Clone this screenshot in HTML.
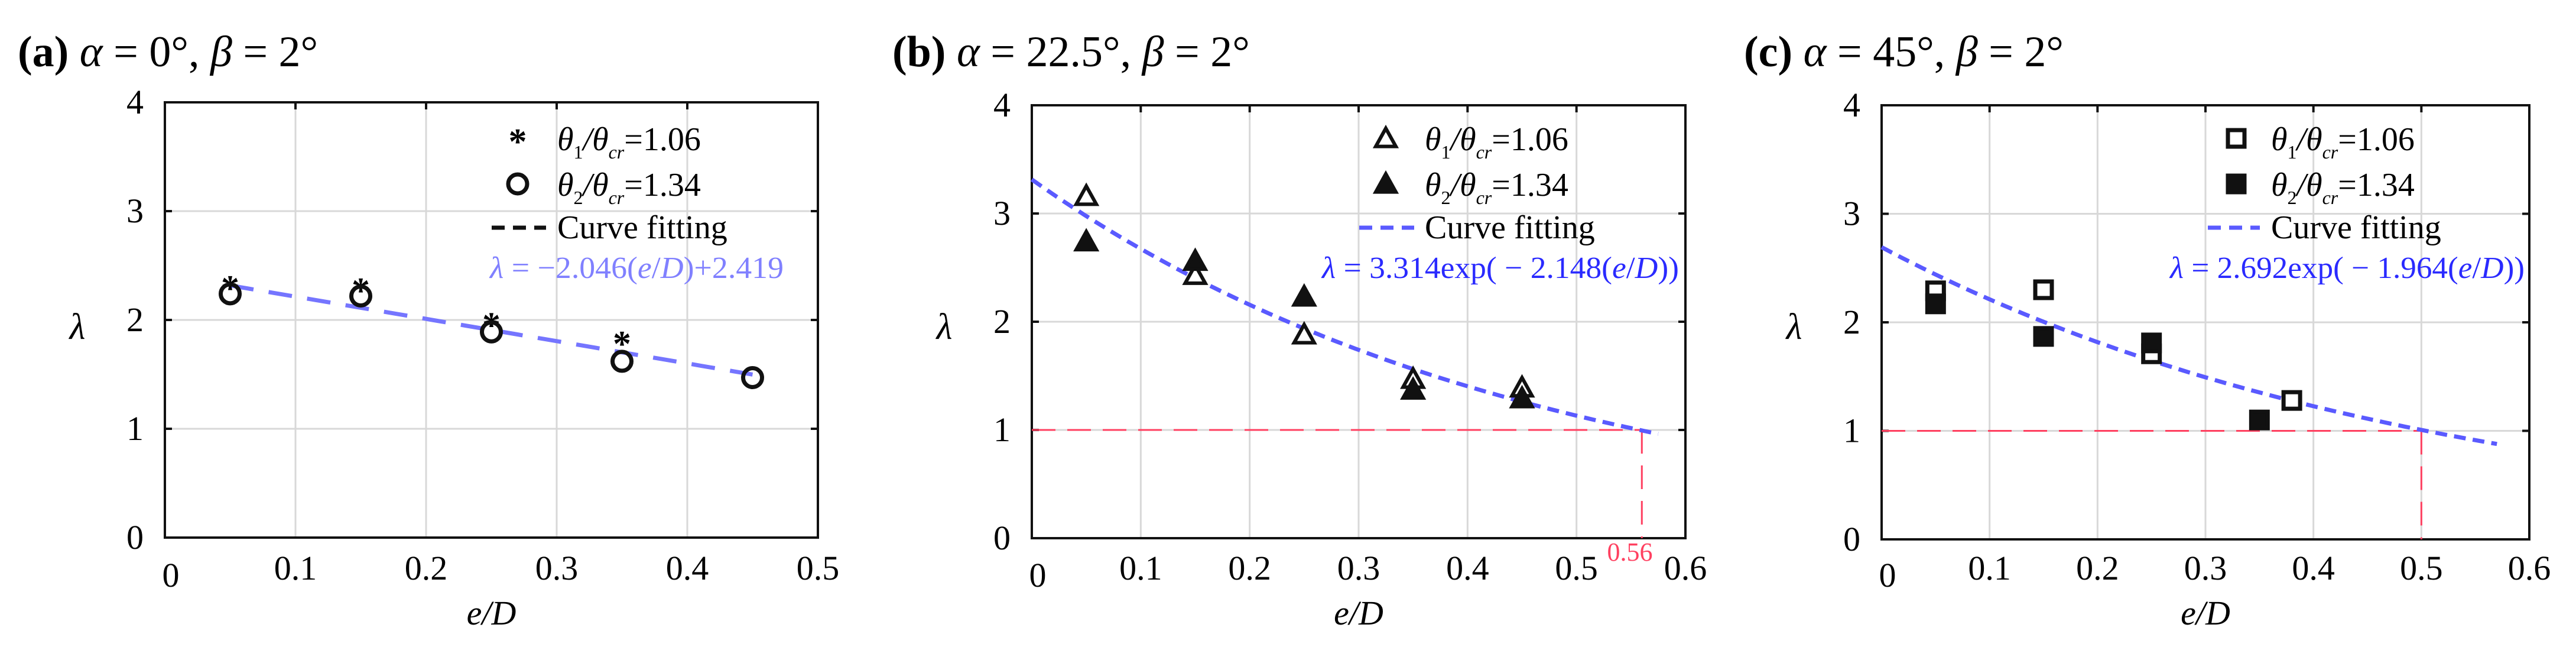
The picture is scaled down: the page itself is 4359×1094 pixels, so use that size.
<!DOCTYPE html>
<html><head><meta charset="utf-8">
<style>
html,body{margin:0;padding:0;background:#fff;}
svg, svg text{font-family:"Liberation Serif","DejaVu Serif",serif;}
svg{display:block;}
</style></head>
<body>
<svg id="fig" width="4359" height="1094" viewBox="0 0 4359 1094" xmlns="http://www.w3.org/2000/svg" font-family="Liberation Serif, serif">
<text x="30" y="112" font-size="74" font-family="Liberation Serif, serif"><tspan font-weight="bold">(a)</tspan> <tspan font-style="italic">α</tspan> = 0°, <tspan font-style="italic">β</tspan> = 2°</text>
<text x="1510" y="112" font-size="74" font-family="Liberation Serif, serif"><tspan font-weight="bold">(b)</tspan> <tspan font-style="italic">α</tspan> = 22.5°, <tspan font-style="italic">β</tspan> = 2°</text>
<text x="2951" y="112" font-size="74" font-family="Liberation Serif, serif"><tspan font-weight="bold">(c)</tspan> <tspan font-style="italic">α</tspan> = 45°, <tspan font-style="italic">β</tspan> = 2°</text>
</svg>
<script>
// Panel (a) data
const aX1 = [0.05, 0.15, 0.25, 0.35];
const aS1 = [2.32, 2.30, 1.98, 1.81];
const aX2 = [0.05, 0.15, 0.25, 0.35, 0.45];
const aS2 = [2.24, 2.22, 1.89, 1.62, 1.47];
const aFitA = -2.046, aFitB = 2.419;
// Panel (b) data
const bX = [0.05, 0.15, 0.25, 0.35, 0.45];
const bS1 = [3.16, 2.43, 1.88, 1.47, 1.39];
const bS2 = [2.74, 2.56, 2.23, 1.37, 1.29];
const bFitA = 3.314, bFitK = -2.148;
const bCross = 0.56;
// Panel (c) data
const cX1 = [0.05, 0.15, 0.25, 0.38];
const cS1 = [2.29, 2.30, 1.71, 1.28];
const cX2 = [0.05, 0.15, 0.25, 0.35];
const cS2 = [2.17, 1.87, 1.81, 1.10];
const cFitA = 2.692, cFitK = -1.964;
const cCross = 0.5;
// ticks
const yTicks = [0, 1, 2, 3, 4];
const xTicksA = [0, 0.1, 0.2, 0.3, 0.4, 0.5];
const xTicksBC = [0, 0.1, 0.2, 0.3, 0.4, 0.5, 0.6];

const svg = document.getElementById('fig');
const NS = 'http://www.w3.org/2000/svg';
function mk(tag, attrs, parent) {
  const e = document.createElementNS(NS, tag);
  for (const k in attrs) e.setAttribute(k, attrs[k]);
  if (tag === 'text' && !attrs['font-family']) e.setAttribute('font-family', 'Liberation Serif, serif');
  (parent || svg).appendChild(e);
  return e;
}

function panel(p) {
  const g = mk('g', {});
  
  
  const sx = v => p.L + (v - 0) / p.xmax * (p.R - p.L);
  const sy = v => p.B - v / 4 * (p.B - p.T);
  p.xticks.forEach(t => {
    if (t > 0 && t < p.xmax) {
      const l = mk('line', {x1: sx(t), x2: sx(t), y1: p.T, y2: p.B, stroke: '#d8d8d8', 'stroke-width': 3}, g);
      
      
    }
  });
  yTicks.forEach(t => {
    if (t > 0 && t < 4) {
      const l = mk('line', {x1: p.L, x2: p.R, y1: sy(t), y2: sy(t), stroke: '#d8d8d8', 'stroke-width': 3}, g);
      
      
    }
  });
  const fr = mk('rect', {x: p.L, y: p.T, width: p.R - p.L, height: p.B - p.T, fill: 'none', stroke: '#111', 'stroke-width': 4}, g);
  
  
  yTicks.forEach(t => {
    mk('line', {x1: p.R - 12, x2: p.R, y1: sy(t), y2: sy(t), stroke: '#111', 'stroke-width': 4}, g);
    mk('line', {x1: p.L, x2: p.L + 12, y1: sy(t), y2: sy(t), stroke: '#111', 'stroke-width': 4}, g);
    const tx = mk('text', {x: p.L - 36, y: sy(t) + 19, 'font-size': 58, 'text-anchor': 'end'}, g);
    tx.textContent = String(t);
    
    
  });
  p.xticks.forEach(t => {
    mk('line', {x1: sx(t), x2: sx(t), y1: p.T, y2: p.T + 12, stroke: '#111', 'stroke-width': 4}, g);
    const tx = mk('text', {x: sx(t) + (t === 0 ? 10 : 0), y: t === 0 ? 992 : 980, 'font-size': 58, 'text-anchor': 'middle'}, g);
    tx.textContent = String(t);
    
    
  });
  const xl = mk('text', {x: (p.L + p.R) / 2, y: 1056, 'font-size': 58, 'text-anchor': 'middle', 'font-style': 'italic'}, g);
  xl.textContent = 'e/D';
  
  
  const yl = mk('text', {x: p.L - 148, y: 573, 'font-size': 62, 'text-anchor': 'middle', 'font-style': 'italic'}, g);
  yl.textContent = 'λ';
  
  

  if (p.cross !== undefined) {
    const r1 = mk('line', {x1: p.L, x2: sx(p.cross), y1: sy(1), y2: sy(1), stroke: '#ff4060', 'stroke-width': 3, 'stroke-dasharray': '40 20'}, g);
    
    
    const r2 = mk('line', {x1: sx(p.cross), x2: sx(p.cross), y1: sy(1), y2: p.B, stroke: '#ff4060', 'stroke-width': 3, 'stroke-dasharray': '40 20'}, g);
    
    
  }
  let d = '';
  const n = 60;
  for (let i = 0; i <= n; i++) {
    const x = p.fx0 + (p.fx1 - p.fx0) * i / n;
    d += (i ? 'L' : 'M') + sx(x).toFixed(1) + ' ' + sy(p.fit(x)).toFixed(1);
  }
  const fc = mk('path', {d: d, fill: 'none', stroke: p.fitColor, 'stroke-width': 7, 'stroke-dasharray': p.dash}, g);
  
  

  function marker(type, cx, cy, parent) {
    let e;
    if (type === 'star') {
      e = mk('text', {x: cx, y: cy + 26, 'font-size': 62, 'text-anchor': 'middle', 'font-family': 'Liberation Sans, sans-serif', 'font-weight': 'bold'}, parent);
      e.textContent = '*';
    } else if (type === 'circle') {
      e = mk('circle', {cx: cx, cy: cy, r: 16, fill: 'none', stroke: '#111', 'stroke-width': 7}, parent);
    } else if (type === 'tri-open' || type === 'tri-fill') {
      const s = 17;
      e = mk('polygon', {points: `${cx},${cy - s} ${cx - s},${cy + s * 0.8} ${cx + s},${cy + s * 0.8}`, fill: type === 'tri-fill' ? '#111' : '#fff', stroke: '#111', 'stroke-width': 6}, parent);
    } else {
      const s = 14;
      e = mk('rect', {x: cx - s, y: cy - s, width: 2 * s, height: 2 * s, fill: type === 'sq-fill' ? '#111' : '#fff', stroke: '#111', 'stroke-width': 7}, parent);
    }
    return e;
  }
  p.series.forEach((s, si) => {
    s.x.forEach((xv, i) => {
      const m = marker(s.type, sx(xv), sy(s.y[i]), g);
      
      
    });
  });

  const lg = mk('g', {}, g);
  
  
  const ly = [234, 311];
  p.series.forEach((s, si) => {
    marker(s.type, p.lmx, ly[si], lg);
    const t = mk('text', {x: p.ltx, y: ly[si] + 20, 'font-size': 56}, lg);
    t.innerHTML = '<tspan font-style="italic">θ</tspan><tspan font-size="32" dy="14">' + (si + 1) + '</tspan><tspan dy="-14" font-style="italic">/θ</tspan><tspan font-size="32" dy="14" font-style="italic">cr</tspan><tspan dy="-14">=' + (si === 0 ? '1.06' : '1.34') + '</tspan>';
    
    
  });
  mk('line', {x1: p.ldx0, x2: p.ldx1, y1: 385, y2: 385, stroke: p.id === 'a' ? '#111' : p.fitColor, 'stroke-width': 7, 'stroke-dasharray': '22 14'}, lg);
  const cf = mk('text', {x: p.ltx, y: 403, 'font-size': 56}, lg);
  cf.textContent = 'Curve fitting';
  
  
  const eq = mk('text', {x: p.eqx, y: 470, 'font-size': 52, fill: p.eqColor, textLength: p.eqw, lengthAdjust: 'spacingAndGlyphs'}, lg);
  eq.innerHTML = p.eq;
  
  
}

panel({id: 'a', L: 279, R: 1384, T: 173, B: 909, xmax: 0.5, xticks: xTicksA,
  fit: x => aFitA * x + aFitB, fx0: 0.05, fx1: 0.45, fitColor: '#7575ff', dash: '40 26',
  series: [{type: 'star', x: aX1, y: aS1}, {type: 'circle', x: aX2, y: aS2}],
  lmx: 876, ltx: 943, ldx0: 832, ldx1: 924, eqx: 829, eqw: 497, eqColor: '#8080ff',
  eq: '<tspan font-style="italic">λ</tspan> = −2.046(<tspan font-style="italic">e</tspan>/<tspan font-style="italic">D</tspan>)+2.419'});
panel({id: 'b', L: 1746, R: 2852, T: 178, B: 910, xmax: 0.6, xticks: xTicksBC,
  fit: x => bFitA * Math.exp(bFitK * x), fx0: 0, fx1: 0.575, fitColor: '#5a5aff', dash: '20 12', cross: bCross,
  series: [{type: 'tri-open', x: bX, y: bS1}, {type: 'tri-fill', x: bX, y: bS2}],
  lmx: 2345, ltx: 2411, ldx0: 2300, ldx1: 2393, eqx: 2237, eqw: 604, eqColor: '#2a2aff',
  eq: '<tspan font-style="italic">λ</tspan> = 3.314exp( − 2.148(<tspan font-style="italic">e</tspan>/<tspan font-style="italic">D</tspan>))'});
panel({id: 'c', L: 3184, R: 4280, T: 178, B: 912, xmax: 0.6, xticks: xTicksBC,
  fit: x => cFitA * Math.exp(cFitK * x), fx0: 0, fx1: 0.57, fitColor: '#5a5aff', dash: '20 12', cross: cCross,
  series: [{type: 'sq-open', x: cX1, y: cS1}, {type: 'sq-fill', x: cX2, y: cS2}],
  lmx: 3784, ltx: 3843, ldx0: 3736, ldx1: 3824, eqx: 3672, eqw: 600, eqColor: '#2a2aff',
  eq: '<tspan font-style="italic">λ</tspan> = 2.692exp( − 1.964(<tspan font-style="italic">e</tspan>/<tspan font-style="italic">D</tspan>))'});

const lbl = mk('text', {x: 2758, y: 948, 'font-size': 44, fill: '#ff4060', 'text-anchor': 'middle'});
lbl.textContent = '0.56';


</script>
</body></html>
